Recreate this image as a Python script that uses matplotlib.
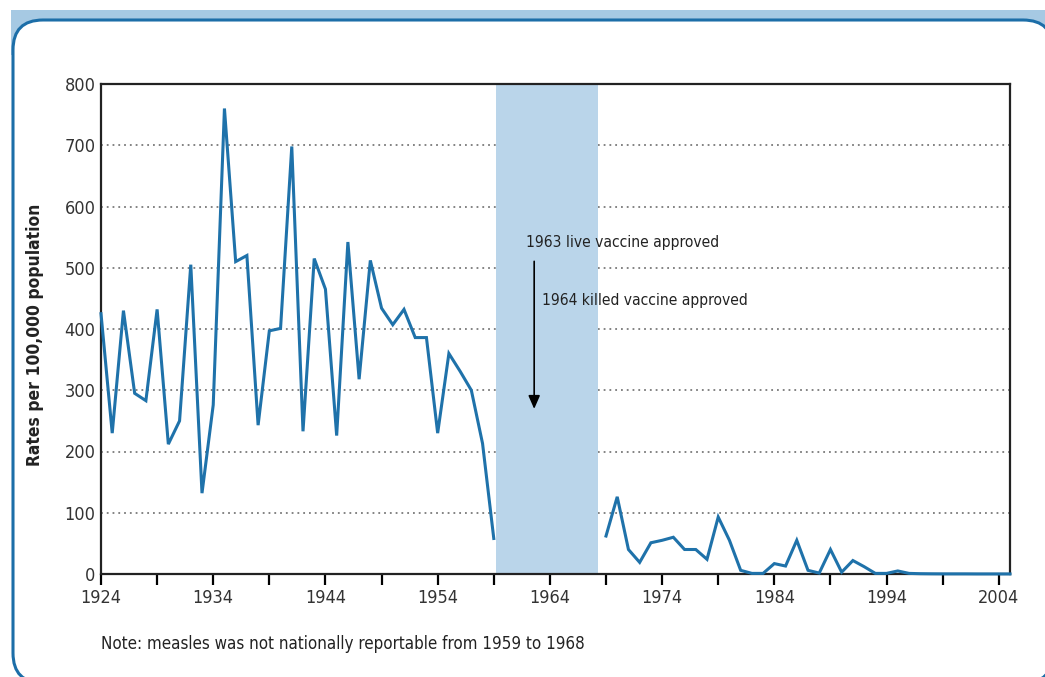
import numpy as np
import matplotlib.pyplot as plt
from matplotlib.patches import FancyBboxPatch, Rectangle

# measles rates per 100,000 population
years_before = list(range(1924, 1960))
rates_before = [425, 230, 430, 295, 283, 432, 212, 250, 505, 132, 276, 760,
                510, 520, 243, 397, 401, 698, 233, 515, 465, 226, 542, 318,
                512, 434, 407, 432, 386, 386, 230, 360, 331, 300, 213, 58]

years_after = list(range(1969, 2006))
rates_after = [62, 126, 40, 19, 51, 55, 60, 40, 40, 24, 93, 55, 6, 1, 1,
               17, 13, 55, 6, 1.5, 40, 3, 22, 12, 1, 1, 5, 1, 0.5, 0.3,
               0.2, 0.2, 0.2, 0.1, 0.1, 0.1, 0.1]

not_reportable = (1959.2, 1968.3)
y_ticks = [0, 100, 200, 300, 400, 500, 600, 700, 800]
x_labels = list(range(1924, 2005, 10))

plt.rcParams['font.family'] = ['DejaVu Sans']
plt.rcParams['font.stretch'] = 'condensed'

W, H = 1045, 677
fig = plt.figure(figsize=(W / 100, H / 100), dpi=100)

# decorative frame (pixel coordinates)
bg = fig.add_axes([0, 0, 1, 1])
bg.set_xlim(0, W)
bg.set_ylim(H, 0)
bg.axis('off')
bg.add_patch(Rectangle((11, 10), W - 11, 45, facecolor='#a6c9e3', edgecolor='none'))
bg.add_patch(FancyBboxPatch((13 + 30, 20 + 30), 1053 - 13 - 60, 683 - 20 - 60,
                            boxstyle='round,pad=30', facecolor='white',
                            edgecolor='#1c6ea8', linewidth=2.2, clip_on=False))

ax = fig.add_axes([101 / W, 1 - 574 / H, (1010 - 101) / W, (574 - 84) / H])
ax.set_xlim(1924, 2005)
ax.set_ylim(0, 800)

ax.axvspan(*not_reportable, color='#bad5ea', lw=0, zorder=1.5)
for yv in y_ticks[1:-1]:
    ax.axhline(yv, color='#7a7a7a', lw=1.3, ls=(0, (1, 2.2)), zorder=1)

line_color = '#1f72aa'
ax.plot(years_before, rates_before, color=line_color, lw=2.2, zorder=3,
        solid_joinstyle='miter', clip_on=False)
ax.plot(years_after, rates_after, color=line_color, lw=2.2, zorder=3,
        solid_joinstyle='miter', clip_on=False)

for s in ax.spines.values():
    s.set_linewidth(1.6)
    s.set_color('#222222')

ax.set_yticks(y_ticks)
ax.tick_params(axis='y', length=0, pad=4, labelsize=13, labelcolor='#333333')
ax.set_xticks(range(1924, 2006, 5))
ax.set_xticklabels([str(y) if y in x_labels else '' for y in range(1924, 2006, 5)])
ax.tick_params(axis='x', length=8, width=1.6, direction='out', pad=3,
               labelsize=13, labelcolor='#333333')

ax.set_ylabel('Rates per 100,000 population', fontsize=12.5, fontweight='bold',
              color='#222222', va='center')
ax.yaxis.set_label_coords(-66 / 909, 0.488)

ax.annotate('', xy=(1962.6, 265), xytext=(1962.6, 515),
            arrowprops=dict(arrowstyle='-|>,head_length=0.8,head_width=0.35',
                            color='black', lw=1.2))
ax.text(1961.9, 542, '1963 live vaccine approved', fontsize=11.2, color='#222222',
        va='center', ha='left')
ax.text(1963.3, 447, '1964 killed vaccine approved', fontsize=11.2, color='#222222',
        va='center', ha='left')

fig.text(101 / W, 1 - 644 / H, 'Note: measles was not nationally reportable from 1959 to 1968',
         fontsize=12.2, color='#222222', va='center', ha='left')

fig.savefig('out.png', dpi=100)
